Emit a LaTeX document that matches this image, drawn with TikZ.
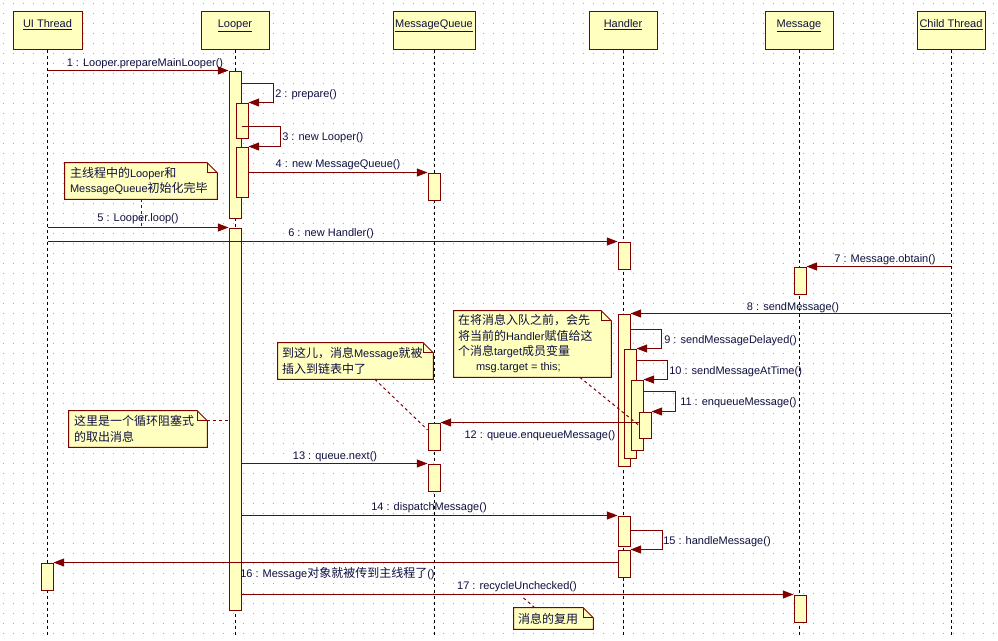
\documentclass[tikz,border=0pt]{standalone}
\usepackage{fontspec}
\setmainfont{Liberation Sans}
\newfontfamily\cjk{Noto Sans CJK SC}
\usetikzlibrary{arrows.meta,fit,calc}

\definecolor{umlred}{RGB}{128,0,0}
\definecolor{umlfill}{RGB}{255,255,192}
\definecolor{umltext}{RGB}{16,16,64}
\definecolor{griddot}{RGB}{170,170,170}

% Chinese runs inside mixed Latin/Chinese text
\newcommand\zh[1]{{\cjk\fontsize{9pt}{11.5pt}\selectfont #1}}
% note outline with a folded top-right corner
\newcommand\dogear[1]{%
  \filldraw[noteshape] (#1.north west) -- ([xshift=-7.5pt]#1.north east)
    -- ([yshift=-7.5pt]#1.north east) -- (#1.south east) -- (#1.south west) -- cycle;
  \draw[noteshape, fill=none] ([xshift=-7.5pt]#1.north east) |- ([yshift=-7.5pt]#1.north east);}

\tikzset{
  gridrow/.style={draw=griddot, line width=0.75pt, dash pattern=on 0.75pt off 6.75pt},
  head/.style={draw=umlred, fill=umlfill, line width=0.75pt, inner sep=0pt},
  lbl/.style={text=umltext, font=\fontsize{8.25pt}{11.5pt}\selectfont, inner sep=0pt,
    text height=6.5pt, text depth=2pt},
  headlbl/.style={lbl, anchor=north, yshift=-5.75pt},
  lifeline/.style={draw=black, line width=0.75pt, dash pattern=on 2.25pt off 2.25pt},
  actbar/.style={draw=umlred, fill=umlfill, line width=0.75pt, inner sep=0pt},
  msg/.style={draw=umlred, line width=0.75pt, -{Triangle[length=8pt,width=6pt]}},
  notearea/.style={inner sep=0pt},
  noteshape/.style={draw=umlred, fill=umlfill, line width=0.75pt},
  notetext/.style={text=umltext, font=\fontsize{8.25pt}{11.5pt}\selectfont, align=left,
    inner sep=0pt, anchor=west},
  noteline/.style={draw=umlred, line width=0.75pt, dash pattern=on 2.25pt off 2.25pt},
}

\begin{document}
\begin{tikzpicture}[x=0.75pt, y=-0.75pt]
\useasboundingbox[fill=white] (0,0) rectangle (998,640);

% dotted drawing grid
\foreach \gy in {3,13,...,633} {\draw[gridrow] (2.5,\gy) -- (998,\gy);}

% object heads
\node[head, fit={(13,11)(82,49)}, label={[headlbl]north:\underline{UI Thread}}] (ui) {};
\node[head, fit={(201,11)(269,49)}, label={[headlbl]north:\underline{Looper}}] (looper) {};
\node[head, fit={(393,11)(475,49)}, label={[headlbl]north:\underline{MessageQueue}}] (mq) {};
\node[head, fit={(589,11)(657,49)}, label={[headlbl]north:\underline{Handler}}] (handler) {};
\node[head, fit={(765,11)(833,49)}, label={[headlbl]north:\underline{Message}}] (message) {};
\node[head, fit={(917,11)(985,49)}, label={[headlbl]north:\underline{Child Thread}}] (child) {};

% lifelines
\coordinate (bottom) at (0,637);
\foreach \o in {ui,looper,mq,handler,message,child}
  {\draw[lifeline] (\o.south) -- (\o.south |- bottom);}

% activation bars
\node[actbar, fit={(229,71)(241,218)}] (lpA) {};
\node[actbar, fit={(236,103)(248,138)}] (lpB) {};
\node[actbar, fit={(236,147)(248,197)}] (lpC) {};
\node[actbar, fit={(229,228)(241,610)}] (lpD) {};
\node[actbar, fit={(428,173)(440,200)}] (mqA) {};
\node[actbar, fit={(428,423)(440,450)}] (mqB) {};
\node[actbar, fit={(428,464)(440,491)}] (mqC) {};
\node[actbar, fit={(618,242)(630,269)}] (hA) {};
\node[actbar, fit={(618,314)(630,466)}] (hB) {};
\node[actbar, fit={(624,349)(636,458)}] (hC) {};
\node[actbar, fit={(631,380)(643,450)}] (hD) {};
\node[actbar, fit={(639,412)(651,438)}] (hE) {};
\node[actbar, fit={(618,516)(630,546)}] (hF) {};
\node[actbar, fit={(618,550)(630,577)}] (hG) {};
\node[actbar, fit={(794,267)(806,294)}] (mA) {};
\node[actbar, fit={(794,595)(806,622)}] (mB) {};
\node[actbar, fit={(41,563)(53,590)}] (uiA) {};

% messages
\draw[msg] (ui.south |- lpA.north) -- (lpA.north west);
\draw[msg] (lpA.east |- 0,83) -- ++(32,0) |- (lpB.north east);
\draw[msg] (lpA.east |- 0,126) -- ++(39,0) |- (lpC.north east);
\draw[msg] (lpC.east |- mqA.north) -- (mqA.north west);
\draw[msg] (ui.south |- lpD.north) -- (lpD.north west);
\draw[msg] (ui.south |- hA.north) -- (hA.north west);
\draw[msg] (child.south |- mA.north) -- (mA.north east);
\draw[msg] (child.south |- hB.north) -- (hB.north east);
\draw[msg] (hB.east |- 0,329) -- ++(31,0) |- (hC.north east);
\draw[msg] (hC.east |- 0,360) -- ++(31,0) |- (hD.north east);
\draw[msg] (hD.east |- 0,391) -- ++(32,0) |- (hE.north east);
\draw[msg] (hE.west |- mqB.north) -- (mqB.north east);
\draw[msg] (lpD.east |- mqC.north) -- (mqC.north west);
\draw[msg] (lpD.east |- hF.north) -- (hF.north west);
\draw[msg] (hF.east |- 0,530) -- ++(32,0) |- (hG.north east);
\draw[msg] (hG.west |- uiA.north) -- (uiA.north east);
\draw[msg] (lpD.east |- mB.north) -- (mB.north west);

% message labels
\node[lbl] (t1) at (145,63.5) {1 : Looper.prepareMainLooper()};
\node[lbl, anchor=west] (t2) at (275,94) {2 : prepare()};
\node[lbl, anchor=west] (t3) at (282,137) {3 : new Looper()};
\node[lbl] (t4) at (338,164) {4 : new MessageQueue()};
\node[lbl] (t5) at (138,218) {5 : Looper.loop()};
\node[lbl] (t6) at (331,233) {6 : new Handler()};
\node[lbl] (t7) at (885,259) {7 : Message.obtain()};
\node[lbl] (t8) at (793,307) {8 : sendMessage()};
\node[lbl, anchor=west] (t9) at (664,340) {9 : sendMessageDelayed()};
\node[lbl, anchor=west] (t10) at (669,371) {10 : sendMessageAtTime()};
\node[lbl, anchor=west] (t11) at (680,402) {11 : enqueueMessage()};
\node[lbl] (t12) at (540,435) {12 : queue.enqueueMessage()};
\node[lbl] (t13) at (335,456) {13 : queue.next()};
\node[lbl] (t14) at (429,507) {14 : dispatchMessage()};
\node[lbl, anchor=west] (t15) at (663,541) {15 : handleMessage()};
\node[lbl, anchor=west] (t16) at (240,574) {16 : Message\zh{对象就被传到主线程了}()};
\node[lbl] (t17) at (517,586) {17 : recycleUnchecked()};

% notes
\node[notearea, fit={(65,163)(217,199)}] (n1) {};
\dogear{n1}
\node[notetext] (n1t) at ([xshift=3.75pt]n1.west)
  {\zh{主线程中的}Looper\zh{和}\\MessageQueue\zh{初始化完毕}};

\node[notearea, fit={(454,311)(611,377)}] (n2) {};
\dogear{n2}
\node[notetext] (n2t) at ([xshift=3pt]n2.west)
  {\zh{在将消息入队之前，会先}\\\zh{将当前的}Handler\zh{赋值给这}\\\zh{个消息}target\zh{成员变量}\\\hspace*{13.5pt}msg.target = this;};

\node[notearea, fit={(278,343)(433,379)}] (n3) {};
\dogear{n3}
\node[notetext] (n3t) at ([xshift=3pt]n3.west)
  {\zh{到这儿，消息}Message\zh{就被}\\\zh{插入到链表中了}};

\node[notearea, fit={(69,411)(207,447)}] (n4) {};
\dogear{n4}
\node[notetext] (n4t) at ([xshift=3.75pt]n4.west)
  {\zh{这里是一个循环阻塞式}\\\zh{的取出消息}};

\node[notearea, fit={(514,608)(593,629)}] (n5) {};
\dogear{n5}
\node[notetext] (n5t) at ([xshift=3pt]n5.west) {\zh{消息的复用}};

% note connectors
\draw[noteline] (n1.south) -- (n1.south |- lpD.north);
\draw[noteline] ([xshift=35.5pt]n2.south) -- (hE.west);
\draw[noteline] ([xshift=14.5pt]n3.south) -- ([yshift=5pt]mqB.west);
\coordinate (n4a) at ([yshift=-7.5pt]n4.north east);
\draw[noteline] (n4a) -- (n4a -| lpD.west);
\coordinate (n5a) at ([xshift=-14pt]n5.north);
\draw[noteline] (n5a) -- ($(n5a |- mB.north)+(-13,2)$);
\end{tikzpicture}
\end{document}
